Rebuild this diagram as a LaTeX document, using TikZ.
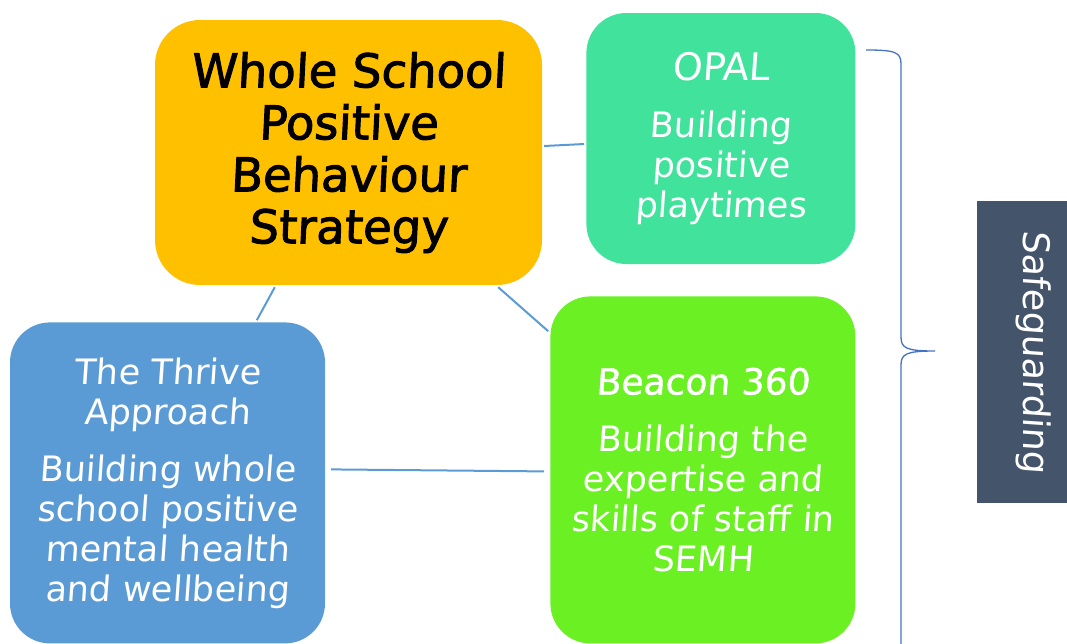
\documentclass[tikz,border=0pt]{standalone}
\usepackage{fontspec}
\usepackage{xcolor}
\usepackage{tikz}
\usetikzlibrary{positioning}

\newfontfamily\sassfont{DejaVu Sans}[FakeSlant=0.07]
\newfontfamily\sasshead{DejaVu Sans}[FakeSlant=0.07,FakeBold=1.2]
\newfontfamily\sasstitle{DejaVu Sans}[FakeSlant=0.05,FakeBold=2]
\newcommand\headtext{\sassfont\fontsize{35}{40}\selectfont}

\definecolor{strategyorange}{HTML}{FFC000}
\definecolor{opalgreen}{HTML}{41E29C}
\definecolor{beacongreen}{HTML}{6AF023}
\definecolor{thriveblue}{HTML}{5B9BD5}
\definecolor{safeslate}{HTML}{44546A}
\definecolor{linkblue}{HTML}{5B9BD5}
\definecolor{braceblue}{HTML}{4472C4}

\begin{document}
\begin{tikzpicture}[
    x=1pt, y=-1pt,
    block/.style={rectangle, rounded corners=40pt, inner sep=0pt, align=center, text=white, font=\sassfont\fontsize{35}{40}\selectfont},
    link/.style={draw=linkblue, line width=2pt},
    brace/.style={draw=braceblue, line width=1.3pt}
]
\useasboundingbox (0,0) rectangle (1067,643);

\node[block, fill=strategyorange, text=black, minimum width=387pt, minimum height=265pt, rounded corners=45pt, font=\sasstitle\fontsize{46.5}{52}\selectfont] (strategy) at (348.5,152.5) {Whole School\\Positive\\Behaviour\\Strategy};
\node[block, fill=opalgreen, minimum width=269pt, minimum height=251pt, right=44pt of strategy, yshift=14pt] (opal) {{\sassfont\fontsize{38}{40}\selectfont OPAL}\\[17pt]Building\\positive\\playtimes};
\node[block, fill=beacongreen, minimum width=305pt, minimum height=347pt, below=32pt of opal, xshift=-18pt] (beacon) {{\sasshead\fontsize{36}{40}\selectfont Beacon 360}\\[17pt]Building the\\expertise and\\skills of staff in\\SEMH};
\node[block, fill=thriveblue, minimum width=315pt, minimum height=321pt, left=225pt of beacon, yshift=-13pt] (thrive) {{\headtext The Thrive}\\{\headtext Approach}\\[17pt]Building whole\\school positive\\mental health\\and wellbeing};

% Side label
\node[fill=safeslate, text=white, rotate=-90, minimum width=302pt, minimum height=114pt, inner sep=0pt, font=\sassfont\fontsize{36.5}{40}\selectfont] (safe) at (1034,352) {Safeguarding};

\draw[link] ([shift={(2,-6.5)}]strategy.east) -- ([shift={(-2,5.5)}]opal.west);
\draw[link] ([shift={(120,2)}]strategy.south west) -- ([shift={(247,-2)}]thrive.north west);
\draw[link] ([shift={(-44,2)}]strategy.south east) -- ([shift={(-2,35)}]beacon.north west);
\draw[link] ([shift={(6,-13.5)}]thrive.east) -- ([shift={(-6,1.5)}]beacon.west);

% Brace
\coordinate (bracetop) at (866,50);
\coordinate (bracetip) at (935,351);
\coordinate (bracefoot) at (901,650);
\draw[brace] (bracetop) .. controls (895,50) and (901,52) .. (901,64) -- (901,337)
    .. controls (901,348) and (906,351) .. (bracetip)
    .. controls (906,351) and (901,354) .. (901,365) -- (bracefoot);
\end{tikzpicture}
\end{document}
